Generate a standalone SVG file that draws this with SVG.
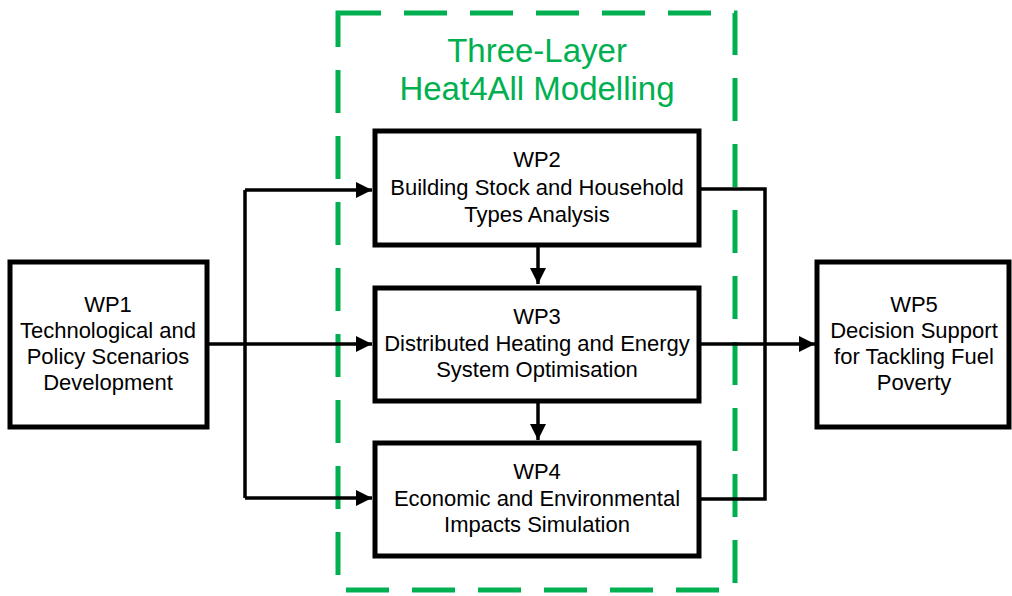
<svg xmlns="http://www.w3.org/2000/svg" width="1012" height="596" viewBox="0 0 1012 596">
<style>
.box{fill:#fff;stroke:#000;stroke-width:5}
.t{font-family:"Liberation Sans",Arial,sans-serif;font-size:22px;fill:#000;text-anchor:middle}
.g{font-family:"Liberation Sans",Arial,sans-serif;font-size:33px;fill:#00B050;text-anchor:middle}
.c{fill:none;stroke:#000;stroke-width:3.5}
</style>
<defs>
<marker id="ah" viewBox="0 0 10 10" refX="10" refY="5" markerWidth="4.6" markerHeight="4.6" orient="auto" markerUnits="strokeWidth">
<path d="M0,0 L10,5 L0,10 Z" fill="#000"/>
</marker>
</defs>
<rect x="0" y="0" width="1012" height="596" fill="#fff"/>
<g id="layer">
<rect x="338" y="13" width="397" height="577" fill="none" stroke="#00B050" stroke-width="5" stroke-dasharray="43 23"/>
<text class="g" x="537" y="62">Three-Layer</text>
<text class="g" x="537" y="100">Heat4All Modelling</text>
</g>
<g id="connectors">
<path class="c" d="M207,344 H245"/>
<path class="c" d="M245,190 V498"/>
<path class="c" d="M245,190 H372" marker-end="url(#ah)"/>
<path class="c" d="M245,344 H372" marker-end="url(#ah)"/>
<path class="c" d="M245,498 H372" marker-end="url(#ah)"/>
<path class="c" d="M700,189 H765 V499 H700"/>
<path class="c" d="M700,344 H815" marker-end="url(#ah)"/>
<path class="c" d="M538,247 V284" marker-end="url(#ah)"/>
<path class="c" d="M538,403 V440" marker-end="url(#ah)"/>
</g>
<g id="wp1">
<rect class="box" x="10" y="262" width="197" height="165"/>
<text class="t" x="108" y="312">WP1</text>
<text class="t" x="108" y="338">Technological and</text>
<text class="t" x="108" y="364">Policy Scenarios</text>
<text class="t" x="108" y="390">Development</text>
</g>
<g id="wp2">
<rect class="box" x="375" y="131" width="324" height="114"/>
<text class="t" x="537" y="167">WP2</text>
<text class="t" x="537" y="195">Building Stock and Household</text>
<text class="t" x="537" y="222">Types Analysis</text>
</g>
<g id="wp3">
<rect class="box" x="375" y="288" width="324" height="113"/>
<text class="t" x="537" y="324">WP3</text>
<text class="t" x="537" y="351">Distributed Heating and Energy</text>
<text class="t" x="537" y="377">System Optimisation</text>
</g>
<g id="wp4">
<rect class="box" x="375" y="443" width="324" height="113"/>
<text class="t" x="537" y="479">WP4</text>
<text class="t" x="537" y="506">Economic and Environmental</text>
<text class="t" x="537" y="532">Impacts Simulation</text>
</g>
<g id="wp5">
<rect class="box" x="817" y="262" width="192" height="165"/>
<text class="t" x="914" y="312">WP5</text>
<text class="t" x="914" y="338">Decision Support</text>
<text class="t" x="914" y="364">for Tackling Fuel</text>
<text class="t" x="914" y="390">Poverty</text>
</g>
</svg>
